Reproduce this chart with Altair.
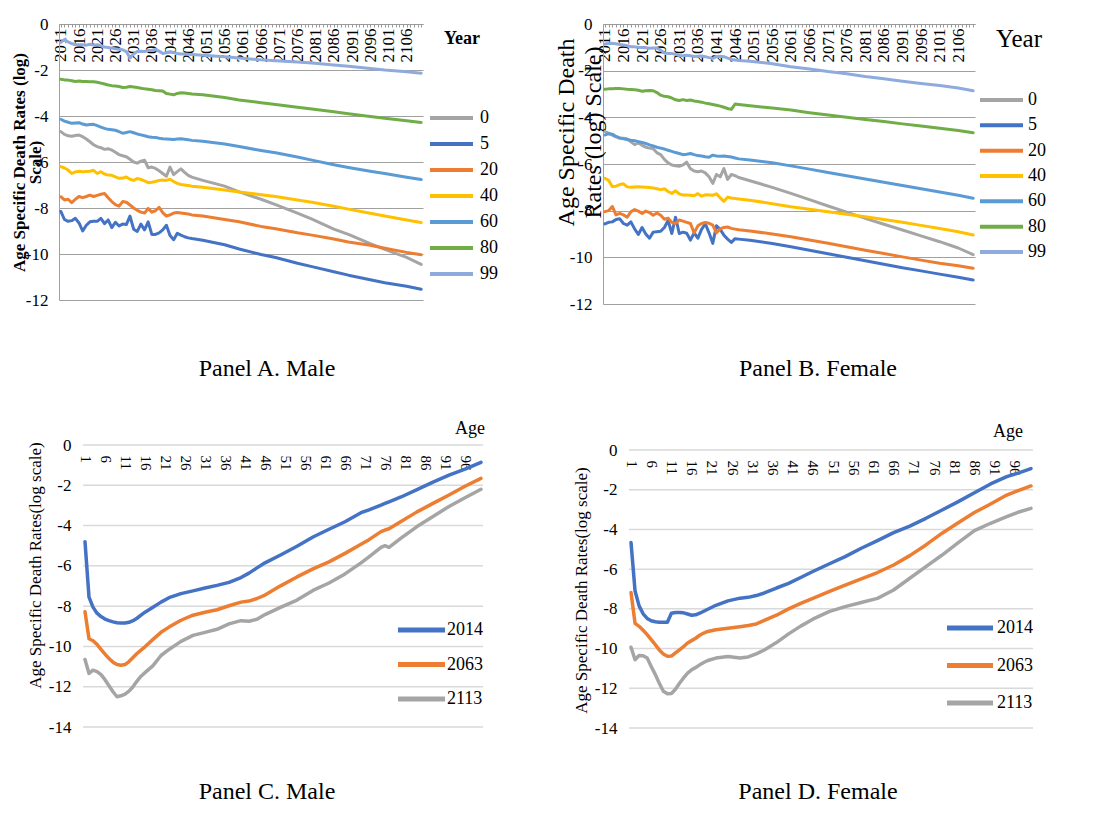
import altair as alt
import pandas as pd

FONT = "Liberation Serif"

# ---------------- Panel A / B data (ages as series, years on x) ----------------
SERIES = ["0", "5", "20", "40", "60", "80", "99"]
SERIES_COLORS = ["#A5A5A5", "#4472C4", "#ED7D31", "#FFC000", "#5B9BD5", "#70AD47", "#8FAADC"]

A_years = list(range(2011, 2048)) + [2050, 2056, 2060, 2066, 2070, 2076, 2080, 2086, 2090, 2096, 2100, 2106, 2110]
A_0 = [-4.68, -4.80, -4.86, -4.88, -4.85, -4.83, -4.90, -5.00, -5.12, -5.25,
       -5.33, -5.38, -5.45, -5.42, -5.48, -5.58, -5.68, -5.73, -5.77, -5.88,
       -6.00, -6.05, -5.96, -5.92, -6.25, -6.22, -6.28, -6.38, -6.50, -6.62,
       -6.22, -6.55, -6.42, -6.30, -6.45, -6.58, -6.66,
       -6.80, -7.05, -7.30, -7.62, -7.85, -8.22, -8.48, -8.92, -9.15, -9.55, -9.80, -10.15, -10.45]
A_5 = [-8.15, -8.50, -8.58, -8.55, -8.45, -8.65, -9.00, -8.75, -8.60, -8.58,
       -8.58, -8.45, -8.68, -8.52, -8.85, -8.62, -8.78, -8.70, -8.72, -8.35,
       -8.92, -9.02, -8.70, -8.95, -8.60, -9.15, -9.15, -9.08, -8.95, -8.75,
       -9.20, -9.38, -9.10, -9.18, -9.25, -9.30, -9.33,
       -9.40, -9.60, -9.78, -10.02, -10.15, -10.40, -10.55, -10.77, -10.92, -11.12, -11.25, -11.40, -11.53]
A_20 = [-7.51, -7.65, -7.62, -7.77, -7.62, -7.50, -7.55, -7.50, -7.44, -7.50,
        -7.45, -7.40, -7.37, -7.55, -7.72, -7.85, -7.92, -7.72, -7.75, -7.87,
        -8.00, -8.10, -8.18, -8.22, -8.02, -8.18, -8.12, -7.97, -8.20, -8.35,
        -8.30, -8.22, -8.20, -8.22, -8.24, -8.26, -8.30,
        -8.35, -8.50, -8.60, -8.80, -8.90, -9.08, -9.18, -9.35, -9.48, -9.62, -9.75, -9.93, -10.03]
A_40 = [-6.20, -6.26, -6.35, -6.50, -6.43, -6.40, -6.42, -6.41, -6.40, -6.36,
        -6.50, -6.42, -6.52, -6.57, -6.58, -6.65, -6.71, -6.70, -6.65, -6.75,
        -6.80, -6.72, -6.76, -6.82, -6.90, -6.88, -6.85, -6.80, -6.78, -6.80,
        -6.75, -6.85, -6.93, -6.98, -7.00, -7.02, -7.05,
        -7.10, -7.22, -7.30, -7.42, -7.50, -7.65, -7.75, -7.92, -8.05, -8.23, -8.35, -8.52, -8.63]
A_60 = [-4.14, -4.22, -4.27, -4.32, -4.30, -4.29, -4.35, -4.39, -4.37, -4.36,
        -4.42, -4.48, -4.54, -4.58, -4.60, -4.62, -4.68, -4.75, -4.72, -4.68,
        -4.73, -4.78, -4.82, -4.86, -4.90, -4.92, -4.93, -4.97, -4.99, -5.00,
        -5.01, -5.02, -5.00, -4.99, -5.01, -5.03, -5.06,
        -5.10, -5.22, -5.33, -5.50, -5.60, -5.78, -5.92, -6.12, -6.24, -6.40, -6.50, -6.66, -6.76]
A_80 = [-2.40, -2.43, -2.44, -2.47, -2.50, -2.48, -2.50, -2.50, -2.51, -2.51,
        -2.53, -2.57, -2.61, -2.65, -2.68, -2.70, -2.72, -2.76, -2.75, -2.72,
        -2.74, -2.76, -2.79, -2.82, -2.84, -2.86, -2.89, -2.90, -2.91, -3.02,
        -3.05, -3.08, -3.02, -2.99, -3.00, -3.02, -3.04,
        -3.08, -3.20, -3.30, -3.42, -3.50, -3.62, -3.70, -3.82, -3.90, -4.02, -4.10, -4.21, -4.28]
A_99 = [-0.80, -0.68, -0.78, -0.85, -0.90, -0.90, -0.90, -0.92, -0.88, -0.92,
        -0.90, -0.95, -1.00, -1.02, -1.05, -1.08, -1.10, -1.12, -1.20, -1.48,
        -1.30, -1.20, -1.18, -1.20, -1.15, -1.15, -1.10, -1.18, -1.28, -1.25,
        -1.20, -1.24, -1.28, -1.30, -1.30, -1.32, -1.33,
        -1.36, -1.42, -1.48, -1.56, -1.60, -1.65, -1.70, -1.78, -1.84, -1.93, -2.00, -2.08, -2.14]

B_years = list(range(2011, 2048)) + [2050, 2056, 2061, 2066, 2071, 2076, 2081, 2086, 2091, 2096, 2101, 2106, 2110]
B_0 = [-4.61, -4.68, -4.76, -4.84, -4.90, -4.90, -4.93, -5.05, -5.17, -5.10,
       -5.20, -5.28, -5.32, -5.35, -5.52, -5.60, -5.80, -5.95, -6.04, -6.08,
       -6.10, -6.04, -5.92, -6.20, -6.30, -6.33, -6.30, -6.38, -6.55, -6.83,
       -6.45, -6.55, -6.20, -6.66, -6.45, -6.50, -6.58,
       -6.72, -7.00, -7.26, -7.53, -7.80, -8.06, -8.33, -8.58, -8.83, -9.08, -9.33, -9.60, -9.88]
B_5 = [-8.57, -8.50, -8.48, -8.38, -8.35, -8.55, -8.62, -8.48, -8.78, -9.02,
       -8.72, -9.00, -9.18, -8.92, -8.90, -8.88, -8.72, -8.42, -8.98, -8.28,
       -8.98, -8.92, -8.97, -9.26, -8.95, -9.18, -8.80, -8.56, -8.95, -9.40,
       -8.65, -8.80, -9.05, -9.22, -9.36, -9.20, -9.22,
       -9.27, -9.41, -9.55, -9.70, -9.85, -10.00, -10.15, -10.30, -10.45, -10.58, -10.72, -10.85, -10.97]
B_20 = [-8.04, -8.00, -7.82, -8.18, -8.12, -8.18, -8.28, -8.05, -7.95, -8.02,
        -8.12, -8.02, -8.08, -8.20, -8.10, -8.20, -8.37, -8.32, -8.50, -8.55,
        -8.40, -8.45, -8.50, -8.55, -8.95, -8.65, -8.55, -8.51, -8.54, -8.62,
        -8.95, -8.78, -8.72, -8.70, -8.76, -8.79, -8.82,
        -8.87, -9.00, -9.12, -9.26, -9.40, -9.55, -9.70, -9.84, -9.98, -10.12, -10.25, -10.36, -10.47]
B_40 = [-6.61, -6.70, -6.97, -6.95, -6.88, -6.85, -6.98, -7.00, -6.99, -6.98,
        -6.99, -7.00, -7.01, -7.03, -7.06, -7.10, -7.06, -7.18, -7.26, -7.15,
        -7.28, -7.33, -7.33, -7.34, -7.36, -7.27, -7.38, -7.32, -7.33, -7.34,
        -7.28, -7.45, -7.60, -7.42, -7.46, -7.48, -7.50,
        -7.55, -7.70, -7.83, -7.94, -8.05, -8.15, -8.26, -8.38, -8.50, -8.63, -8.76, -8.90, -9.04]
B_60 = [-4.76, -4.70, -4.72, -4.82, -4.88, -4.92, -4.95, -4.98, -5.00, -5.04,
        -5.08, -5.12, -5.18, -5.23, -5.28, -5.32, -5.36, -5.41, -5.46, -5.51,
        -5.55, -5.60, -5.58, -5.55, -5.60, -5.64, -5.66, -5.69, -5.71, -5.62,
        -5.66, -5.67, -5.66, -5.68, -5.70, -5.74, -5.78,
        -5.83, -5.95, -6.08, -6.22, -6.36, -6.50, -6.64, -6.78, -6.92, -7.06, -7.20, -7.34, -7.47]
B_80 = [-2.80, -2.78, -2.77, -2.76, -2.76, -2.78, -2.80, -2.81, -2.82, -2.84,
        -2.88, -2.86, -2.85, -2.86, -2.94, -3.05, -3.10, -3.12, -3.17, -3.25,
        -3.28, -3.24, -3.28, -3.26, -3.30, -3.32, -3.35, -3.39, -3.42, -3.45,
        -3.48, -3.52, -3.57, -3.62, -3.66, -3.43, -3.45,
        -3.50, -3.60, -3.69, -3.80, -3.90, -4.00, -4.09, -4.18, -4.28, -4.37, -4.47, -4.56, -4.66]
B_99 = [-0.86, -0.84, -0.83, -0.85, -0.88, -0.90, -0.93, -0.97, -0.98, -1.00,
        -1.01, -1.02, -1.04, -1.03, -1.03, -1.12, -1.24, -1.26, -1.26, -1.30,
        -1.35, -1.36, -1.34, -1.36, -1.39, -1.38, -1.37, -1.40, -1.44, -1.47,
        -1.40, -1.38, -1.40, -1.46, -1.52, -1.54, -1.56,
        -1.60, -1.70, -1.83, -1.93, -2.04, -2.13, -2.25, -2.35, -2.45, -2.55, -2.64, -2.74, -2.86]

# ---------------- Panel C / D data (years as series, ages on x) ----------------
YEARS = ["2014", "2063", "2113"]
YEAR_COLORS = ["#4472C4", "#ED7D31", "#A5A5A5"]

C_ages = list(range(1, 17)) + [18, 20, 22, 25, 28, 31, 34, 37, 40, 42, 44, 46, 50, 54, 58, 62, 66, 70, 72, 75, 76, 77, 80, 84, 88, 92, 96, 100]
C_2014 = [-4.80, -7.55, -8.05, -8.35, -8.52, -8.64, -8.72, -8.78, -8.82, -8.84, -8.84, -8.80, -8.72, -8.60, -8.45, -8.30,
          -8.05, -7.80, -7.58, -7.38, -7.24, -7.10, -6.97, -6.82, -6.58, -6.36, -6.10, -5.85, -5.45, -5.03, -4.57, -4.18,
          -3.81, -3.36, -3.22, -2.98, -2.90, -2.82, -2.58, -2.22, -1.84, -1.50, -1.20, -0.86]
C_2063 = [-8.28, -9.62, -9.72, -9.90, -10.15, -10.38, -10.60, -10.78, -10.90, -10.93, -10.90, -10.75, -10.55, -10.35, -10.18, -10.02,
          -9.65, -9.30, -9.04, -8.70, -8.45, -8.30, -8.18, -7.98, -7.80, -7.75, -7.62, -7.45, -6.98, -6.55, -6.15, -5.80,
          -5.38, -4.93, -4.70, -4.30, -4.22, -4.16, -3.80, -3.32, -2.90, -2.48, -2.05, -1.66]
C_2113 = [-10.65, -11.34, -11.18, -11.25, -11.40, -11.65, -11.95, -12.25, -12.50, -12.45, -12.37, -12.22, -12.00, -11.72, -11.48, -11.30,
          -10.95, -10.45, -10.15, -9.75, -9.45, -9.30, -9.15, -8.88, -8.72, -8.75, -8.65, -8.42, -8.05, -7.70, -7.22, -6.85,
          -6.40, -5.85, -5.55, -5.08, -5.00, -5.08, -4.62, -4.05, -3.55, -3.05, -2.62, -2.20]

D_ages = list(range(1, 21)) + [22, 25, 28, 30, 32, 34, 37, 40, 43, 46, 50, 54, 58, 62, 66, 70, 74, 78, 82, 86, 90, 94, 97, 100]
D_2014 = [-4.66, -7.10, -7.85, -8.25, -8.48, -8.60, -8.65, -8.67, -8.67, -8.67, -8.22, -8.18, -8.18, -8.20, -8.26, -8.32, -8.30, -8.22, -8.12, -8.02,
          -7.82, -7.60, -7.46, -7.42, -7.33, -7.20, -6.95, -6.72, -6.42, -6.12, -5.74, -5.37, -4.95, -4.56, -4.16, -3.83,
          -3.44, -3.02, -2.60, -2.15, -1.71, -1.34, -1.15, -0.94]
D_2063 = [-7.18, -8.73, -8.88, -9.08, -9.30, -9.55, -9.80, -10.07, -10.27, -10.39, -10.38, -10.22, -10.06, -9.90, -9.72, -9.60, -9.48, -9.33, -9.22, -9.14,
          -9.05, -8.98, -8.90, -8.84, -8.76, -8.58, -8.32, -8.00, -7.72, -7.47, -7.13, -6.80, -6.49, -6.17, -5.79, -5.32,
          -4.78, -4.19, -3.66, -3.15, -2.72, -2.27, -2.03, -1.81]
D_2113 = [-9.93, -10.56, -10.35, -10.36, -10.48, -10.90, -11.30, -11.75, -12.15, -12.28, -12.26, -12.05, -11.75, -11.48, -11.24, -11.07, -10.95, -10.82, -10.70, -10.60,
          -10.48, -10.40, -10.48, -10.42, -10.27, -10.07, -9.70, -9.26, -8.87, -8.52, -8.14, -7.89, -7.68, -7.47, -7.05, -6.46,
          -5.87, -5.29, -4.66, -4.06, -3.69, -3.36, -3.12, -2.94]

AB_TICKS = [0, -2, -4, -6, -8, -10, -12]
CD_TICKS = [0, -2, -4, -6, -8, -10, -12, -14]


def long_df(xs, names, arrays, xname):
    rows = []
    for name, vals in zip(names, arrays):
        for x, v in zip(xs, vals):
            rows.append({xname: x, "value": v, "series": name})
    return pd.DataFrame(rows)


def text_layer(txt, x, y, size, weight="normal", align="center"):
    return alt.Chart(pd.DataFrame({"t": [txt]})).mark_text(
        font=FONT, fontSize=size, fontWeight=weight, align=align, baseline="middle", color="black"
    ).encode(text="t:N", x=alt.value(x), y=alt.value(y))


def legend_layers(names, colors, x0, x1, xl, y0, y1, size, sw):
    ldf = pd.DataFrame({"series": names})
    ly = alt.Y("series:N", scale=alt.Scale(type="point", domain=names, range=[y0, y1], padding=0), axis=None)
    cs = alt.Scale(domain=names, range=colors)
    rules = alt.Chart(ldf).mark_rule(strokeWidth=sw).encode(
        x=alt.value(x0), x2=alt.value(x1), y=ly, color=alt.Color("series:N", scale=cs, legend=None))
    texts = alt.Chart(ldf).mark_text(font=FONT, fontSize=size, align="left", baseline="middle", color="black").encode(
        x=alt.value(xl), y=ly, text="series:N")
    return [rules, texts]


def year_panel(df, w, h, ytitle, tsize, tweight, tx, ty, tlh, leg, year_txt, caption):
    cs = alt.Scale(domain=SERIES, range=SERIES_COLORS)
    lines = alt.Chart(df).mark_line(strokeWidth=3, strokeJoin="round", strokeCap="round").encode(
        x=alt.X("year:Q", scale=alt.Scale(domain=[2010.5, 2110.5], nice=False, zero=False),
                axis=alt.Axis(orient="bottom", offset=-h, values=list(range(2011, 2111)), format="d",
                              labelExpr="(datum.value - 2011) % 5 == 0 ? datum.label : ''",
                              labelAngle=270, labelFont=FONT, labelFontSize=17, labelColor="black",
                              labelOverlap=False, labelPadding=1, tickSize=3, tickColor="#9A9A9A",
                              domainColor="#9A9A9A", grid=False, title=None)),
        y=alt.Y("value:Q", scale=alt.Scale(domain=[-12, 0], nice=False),
                axis=alt.Axis(values=AB_TICKS, labelExpr="'' + datum.value",
                              grid=True, gridColor="#A0A0A0", domain=True, domainColor="#A0A0A0",
                              ticks=False, labelFont=FONT, labelFontSize=17, labelColor="black",
                              labelPadding=11, title=ytitle, titleFont=FONT, titleFontSize=tsize,
                              titleFontWeight=tweight, titleColor="black", titleAngle=270, titleX=tx, titleY=ty,
                              titleAlign="center", titleBaseline="middle", titleLineHeight=tlh)),
        color=alt.Color("series:N", scale=cs, legend=None),
    )
    layers = [lines] + legend_layers(SERIES, SERIES_COLORS, *leg) + [year_txt, caption]
    return alt.layer(*layers).resolve_scale(y="independent").properties(width=w, height=h)


def age_panel(df, w, h, x0, x1, y0, y1, tx, ty, leg, age_txt, caption):
    cs = alt.Scale(domain=YEARS, range=YEAR_COLORS)
    yscale = alt.Scale(domain=[-14, 0], range=[y1, y0], nice=False)
    grid = alt.Chart(pd.DataFrame({"g": CD_TICKS})).mark_rule(color="#D9D9D9", strokeWidth=1.5).encode(
        x=alt.value(x0), x2=alt.value(x1), y=alt.Y("g:Q", scale=yscale, axis=None))
    lines = alt.Chart(df).mark_line(strokeWidth=3.5, strokeJoin="round", strokeCap="round").encode(
        x=alt.X("age:Q", scale=alt.Scale(domain=[0.5, 100.5], range=[x0, x1], nice=False, zero=False),
                axis=alt.Axis(orient="bottom", offset=y0 - h, values=list(range(1, 100, 5)), format="d",
                              labelAngle=90, labelFont=FONT, labelFontSize=15, labelColor="black",
                              labelOverlap=False, labelPadding=10, ticks=False, domain=False, grid=False,
                              title=None)),
        y=alt.Y("value:Q", scale=yscale,
                axis=alt.Axis(values=CD_TICKS, labelExpr="'' + datum.value", offset=-x0,
                              grid=False, domain=False, ticks=False,
                              labelFont=FONT, labelFontSize=17, labelColor="black", labelPadding=12,
                              title="Age Specific Death Rates(log scale)", titleFont=FONT, titleFontSize=17,
                              titleFontWeight="normal", titleColor="black", titleAngle=270, titleX=tx, titleY=ty,
                              titleAlign="center", titleBaseline="middle")),
        color=alt.Color("series:N", scale=cs, legend=None),
    )
    layers = [grid, lines] + legend_layers(YEARS, YEAR_COLORS, *leg) + [age_txt, caption]
    return alt.layer(*layers).resolve_scale(y="independent").properties(width=w, height=h)


dfA = long_df(A_years, SERIES, [A_0, A_5, A_20, A_40, A_60, A_80, A_99], "year")
dfB = long_df(B_years, SERIES, [B_0, B_5, B_20, B_40, B_60, B_80, B_99], "year")
dfC = long_df(C_ages, YEARS, [C_2014, C_2063, C_2113], "age")
dfD = long_df(D_ages, YEARS, [D_2014, D_2063, D_2113], "age")

panelA = year_panel(dfA, 364, 276, ["Age Specific Death Rates (log)", "Scale)"], 17, "bold", -40, 138, 16,
                    (371, 414, 421, 94, 250, 18, 4),
                    text_layer("Year", 403, 15, 18, "bold"),
                    text_layer("Panel A. Male", 208, 345, 24))
panelB = year_panel(dfB, 372, 280, ["Age Specific Death", "Rates (log) Scale)"], 24, "normal", -37, 108, 27,
                    (377, 420, 425, 76, 228, 18, 4),
                    text_layer("Year", 416, 15, 25),
                    text_layer("Panel B. Female", 215, 345, 24))
panelC = age_panel(dfC, 364, 282, 24, 424, 0, 282, -48, 120,
                   (339, 386, 388, 185, 254, 18, 5),
                   text_layer("Age", 426, -16, 18, align="right"),
                   text_layer("Panel C. Male", 208, 347, 24))
panelD = age_panel(dfD, 430, 283, 26, 430, 5, 283, -48, 145,
                   (344, 390, 394, 183, 258, 18, 5),
                   text_layer("Age", 420, -13, 18, align="right"),
                   text_layer("Panel D. Female", 215, 347, 24))

chart = alt.concat(
    panelA, panelB, panelC, panelD,
    columns=2, spacing={"row": 141, "column": 180}, bounds="flush",
).resolve_scale(color="independent").properties(
    autosize=alt.AutoSizeParams(type="none"),
    padding={"left": 51, "top": 16, "right": 1034, "bottom": 782},
    background="white",
).configure_view(stroke="transparent")

chart.save("out.html", embed_options={"renderer": "svg", "actions": False})
